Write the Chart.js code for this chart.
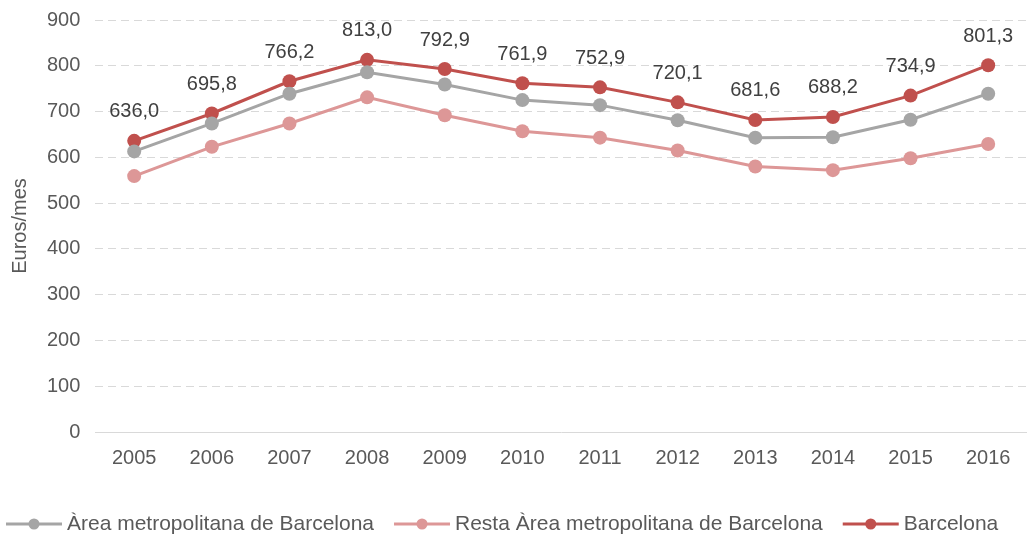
<!DOCTYPE html>
<html>
<head>
<meta charset="utf-8">
<script src="https://cdn.jsdelivr.net/npm/chart.js@4"></script>
<style>
  html, body { margin: 0; padding: 0; background: #fff; overflow: hidden; }
  #wrap { width: 1034px; height: 539px; }
</style>
</head>
<body>
<div id="wrap"><canvas id="chart"></canvas></div>
<script>
const years = ['2005','2006','2007','2008','2009','2010','2011','2012','2013','2014','2015','2016'];
const areaMetro = [613, 674, 739, 786, 759, 725, 714, 681, 643, 644, 682, 739];
const restaArea = [559, 623, 674, 731, 692, 657, 643, 615, 580, 572, 598, 629];
const barcelona = [636.0, 695.8, 766.2, 813.0, 792.9, 761.9, 752.9, 720.1, 681.6, 688.2, 734.9, 801.3];
const yTicks = [0, 100, 200, 300, 400, 500, 600, 700, 800, 900];

const FONT = 'Arial, "Liberation Sans", sans-serif';
const TEXT = '#595959';
const SIZE = 20;

// etiquetas de valor sobre la serie Barcelona
const labelPlugin = {
  id: 'valueLabels',
  afterDatasetsDraw(chart) {
    const ctx = chart.ctx;
    const meta = chart.getDatasetMeta(2);
    ctx.save();
    ctx.font = SIZE + 'px ' + FONT;
    ctx.fillStyle = '#404040';
    ctx.textAlign = 'center';
    ctx.textBaseline = 'middle';
    meta.data.forEach((pt, i) => {
      ctx.fillText(barcelona[i].toFixed(1).replace('.', ','), pt.x, pt.y - 29);
    });
    ctx.restore();
  }
};

// leyenda propia: línea con marcador + texto
const legendPlugin = {
  id: 'lineLegend',
  afterDraw(chart) {
    const ctx = chart.ctx;
    const y = 524;
    let x = 6;
    ctx.save();
    ctx.font = '21px ' + FONT;
    ctx.textBaseline = 'middle';
    chart.data.datasets.forEach(ds => {
      ctx.strokeStyle = ds.borderColor;
      ctx.lineWidth = 3;
      ctx.beginPath();
      ctx.moveTo(x, y);
      ctx.lineTo(x + 56, y);
      ctx.stroke();
      ctx.beginPath();
      ctx.fillStyle = ds.borderColor;
      ctx.arc(x + 28, y, 5.5, 0, Math.PI * 2);
      ctx.fill();
      x += 61;
      ctx.fillStyle = TEXT;
      ctx.fillText(ds.label, x, y);
      x += ctx.measureText(ds.label).width + 20;
    });
    ctx.restore();
  }
};

new Chart(document.getElementById('chart'), {
  type: 'line',
  data: {
    labels: years,
    datasets: [
      { label: 'Àrea metropolitana de Barcelona', data: areaMetro, borderColor: '#a5a5a5', backgroundColor: '#a5a5a5' },
      { label: 'Resta Àrea metropolitana de Barcelona', data: restaArea, borderColor: '#dd9797', backgroundColor: '#dd9797' },
      { label: 'Barcelona', data: barcelona, borderColor: '#c0504d', backgroundColor: '#c0504d' }
    ].map(d => Object.assign(d, { borderWidth: 3, pointRadius: 7, pointHoverRadius: 7, pointBorderWidth: 0, tension: 0 }))
  },
  options: {
    responsive: true,
    maintainAspectRatio: false,
    animation: false,
    layout: { padding: { left: 8, right: 0, top: 20, bottom: 0 } },
    plugins: {
      tooltip: { enabled: false },
      legend: { display: false }
    },
    scales: {
      x: {
        offset: true,
        grid: { display: false },
        border: { display: true, color: '#d9d9d9', width: 1 },
        ticks: { color: TEXT, font: { family: FONT, size: SIZE }, padding: 6 },
        afterFit(scale) { scale.height = 107; scale.paddingRight = 0; scale.paddingLeft = 0; }
      },
      y: {
        min: 0,
        max: 900,
        afterBuildTicks(scale) { scale.ticks = yTicks.map(v => ({ value: v })); },
        grid: { color: '#d9d9d9', lineWidth: 1, drawTicks: false },
        border: { display: false, dash: [8, 5] },
        ticks: { color: TEXT, font: { family: FONT, size: SIZE }, padding: 15 },
        title: { display: true, text: 'Euros/mes', color: TEXT, font: { family: FONT, size: SIZE }, padding: 0 },
        afterFit(scale) { scale.paddingTop = 0; scale.paddingBottom = 0; }
      }
    }
  },
  plugins: [labelPlugin, legendPlugin]
});
</script>
</body>
</html>
